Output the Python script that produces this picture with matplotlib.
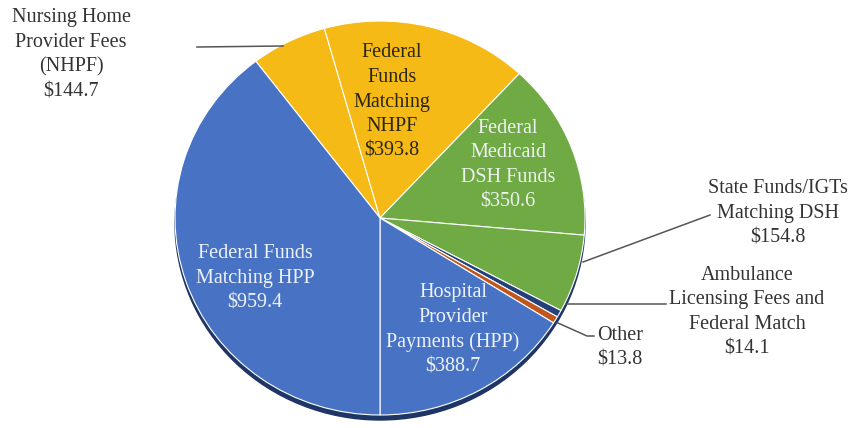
import matplotlib
matplotlib.use("Agg")
import matplotlib.pyplot as plt
from matplotlib.patches import Ellipse

# funding sources, clockwise from the top-left
names = ["Nursing Home\nProvider Fees\n(NHPF)",
         "Federal\nFunds\nMatching\nNHPF",
         "Federal\nMedicaid\nDSH Funds",
         "State Funds/IGTs\nMatching DSH",
         "Ambulance\nLicensing Fees and\nFederal Match",
         "Other",
         "Hospital\nProvider\nPayments (HPP)",
         "Federal Funds\nMatching HPP"]
values = [144.7, 393.8, 350.6, 154.8, 14.1, 13.8, 388.7, 959.4]
colors = ["#F5BA16", "#F5BA16", "#6FAA45", "#6FAA45",
          "#22407A", "#C0561C", "#4873C4", "#4873C4"]

W, H = 851, 428
CX, CY, RX, RY = 380, 218, 205, 197   # pie centre / radii in pixels

plt.rcParams["font.family"] = ["Liberation Serif", "DejaVu Serif"]

fig = plt.figure(figsize=(W / 100, H / 100), dpi=100)
ax = fig.add_axes([0, 0, 1, 1])

total = sum(values)
# HPP ends straight down, wedges go clockwise
start = -90 + 360 * (1 - values[-1] / total)

# dark rim under the pie (fake 3d)
ax.add_patch(Ellipse((0, -5 / RY), 2, 2, color="#1E3566", zorder=0))

ax.pie(values, colors=colors, startangle=start, counterclock=False,
       wedgeprops=dict(edgecolor="white", linewidth=0.8), radius=1)
ax.set_aspect("auto")
ax.set_xlim(-CX / RX, (W - CX) / RX)
ax.set_ylim(-(H - CY) / RY, CY / RY)
ax.axis("off")


def fpos(x, y):
    return x / W, 1 - y / H


# label positions (pixels), text colour
lab_pos = [(71, 55), (392, 102), (508, 165), (778, 213),
           (747, 312), (620, 348), (453, 330), (255, 278)]
lab_col = ["#333333", "#2B2410", "#EEF2F0", "#333333",
           "#333333", "#333333", "#EEF2F6", "#EEF2F6"]

for nm, v, (x, y), c in zip(names, values, lab_pos, lab_col):
    fig.text(*fpos(x, y), nm + "\n\\$" + f"{v:.1f}", ha="center", va="center",
             fontsize=14.5, color=c, linespacing=1.4)

# leader lines
leaders = [[(197, 47), (283, 46)],
           [(583, 262), (710, 215)],
           [(566, 304), (666, 304)],
           [(558, 323), (587, 336), (594, 336)]]
for pts in leaders:
    xs = [fpos(*p)[0] for p in pts]
    ys = [fpos(*p)[1] for p in pts]
    fig.add_artist(plt.Line2D(xs, ys, color="#555555", lw=1.1,
                              transform=fig.transFigure))

fig.savefig("out.png", dpi=100)
